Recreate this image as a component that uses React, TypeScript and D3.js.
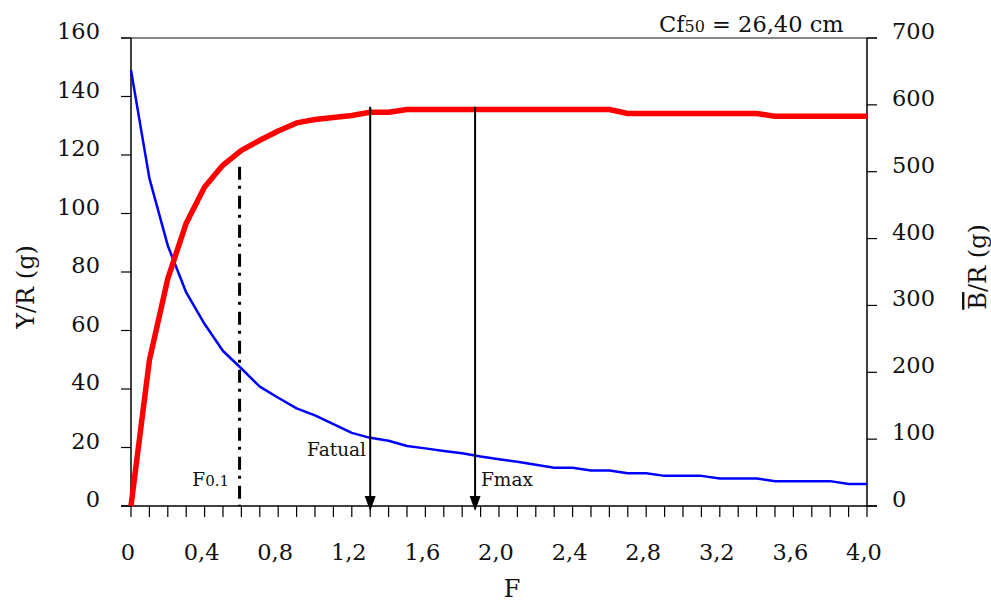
import React from "react";
import * as d3 from "d3";

const F = [0, 0.1, 0.2, 0.3, 0.4, 0.5, 0.6, 0.7, 0.8, 0.9, 1.0, 1.1, 1.2, 1.3, 1.4, 1.5, 1.6, 1.7, 1.8, 1.9, 2.0, 2.1, 2.2, 2.3, 2.4, 2.5, 2.6, 2.7, 2.8, 2.9, 3.0, 3.1, 3.2, 3.3, 3.4, 3.5, 3.6, 3.7, 3.8, 3.9, 4.0];
const yieldPerRecruit = [149, 112, 89, 73, 62.2, 53, 47, 40.8, 37, 33.4, 31, 28, 25, 23.3, 22.3, 20.5, 19.7, 18.8, 18, 16.9, 16, 15.1, 14.1, 13.1, 13.1, 12.1, 12.1, 11.2, 11.2, 10.3, 10.3, 10.3, 9.4, 9.4, 9.4, 8.5, 8.5, 8.5, 8.5, 7.5, 7.5];
const biomassPerRecruit = [0, 218, 340, 423, 477, 510, 532, 547, 561, 573, 578, 581, 584, 589, 589, 593, 593, 593, 593, 593, 593, 593, 593, 593, 593, 593, 593, 587, 587, 587, 587, 587, 587, 587, 587, 583, 583, 583, 583, 583, 583];
const xTickLabels = [0, 0.4, 0.8, 1.2, 1.6, 2.0, 2.4, 2.8, 3.2, 3.6, 4.0];
const leftTicks = [0, 20, 40, 60, 80, 100, 120, 140, 160];
const rightTicks = [0, 100, 200, 300, 400, 500, 600, 700];
const F01 = 0.59;
const Fatual = 1.3;
const Fmax = 1.87;
const refTopLeft = 116;
const arrowTopLeft = 136.5;

const FONT = "DejaVu Serif";

export default function App() {
  const x = d3.scaleLinear().domain([0, 4]).range([131, 867]);
  const yL = d3.scaleLinear().domain([0, 160]).range([506, 38]);
  const yR = d3.scaleLinear().domain([0, 700]).range([506, 38]);

  const blueLine = d3
    .line<number>()
    .x((_, i) => x(F[i]))
    .y((d) => yL(d))(yieldPerRecruit) as string;
  const redLine = d3
    .line<number>()
    .x((_, i) => x(F[i]))
    .y((d) => yR(d))(biomassPerRecruit) as string;

  const fmt = (v: number) => (v === 0 ? "0" : v.toFixed(1).replace(".", ","));
  const x0 = x(0);
  const x1 = x(4);
  const yb = yL(0);

  const arrow = (fv: number, key: string) => {
    const px = x(fv);
    const tip = yb + 5;
    return (
      <g key={key}>
        <line x1={px} x2={px} y1={yL(arrowTopLeft)} y2={tip - 10} stroke="#000" strokeWidth={2} />
        <polygon points={`${px - 5.5},${tip - 15} ${px + 5.5},${tip - 15} ${px},${tip}`} fill="#000" />
      </g>
    );
  };

  return (
    <svg
      width={991}
      height={602}
      style={{ position: "absolute", left: 0, top: 0, background: "#fff" }}
      fontFamily={FONT}
    >
      <rect width={991} height={602} fill="#fff" />
      {/* top frame line */}
      <line x1={x0 - 10} x2={x1 + 10} y1={yL(160)} y2={yL(160)} stroke="#888" strokeWidth={2} />
      {/* left axis */}
      <line x1={x0} x2={x0} y1={yL(160)} y2={yb} stroke="#000" strokeWidth={1.5} />
      {leftTicks.map((t) => (
        <g key={"l" + t}>
          <line x1={x0 - 10} x2={x0} y1={yL(t)} y2={yL(t)} stroke="#000" strokeWidth={1.2} />
          <text x={100} y={yL(t) + 1} textAnchor="end" fontSize={22.5} fill="#111">
            {t}
          </text>
        </g>
      ))}
      {/* right axis */}
      <line x1={x1} x2={x1} y1={yR(700)} y2={yb} stroke="#000" strokeWidth={1.5} />
      {rightTicks.map((t) => (
        <g key={"r" + t}>
          <line x1={x1} x2={x1 + 10} y1={yR(t)} y2={yR(t)} stroke="#000" strokeWidth={1.2} />
          <text x={892} y={yR(t) + 1} textAnchor="start" fontSize={22.5} fill="#111">
            {t}
          </text>
        </g>
      ))}
      {/* bottom axis */}
      <line x1={x0 - 10} x2={x1 + 10} y1={yb} y2={yb} stroke="#000" strokeWidth={1.5} />
      {F.map((f) => (
        <line key={"b" + f} x1={x(f)} x2={x(f)} y1={yb} y2={yb + 11} stroke="#000" strokeWidth={1.2} />
      ))}
      {xTickLabels.map((t) => (
        <text key={"xt" + t} x={x(t) - 3} y={560} textAnchor="middle" fontSize={22.5} fill="#111">
          {fmt(t)}
        </text>
      ))}
      {/* axis titles */}
      <text x={512} y={597} textAnchor="middle" fontSize={24} fill="#111">
        F
      </text>
      <text
        transform={`translate(34,287) rotate(-90)`}
        textAnchor="middle"
        fontSize={24}
        fill="#111"
      >
        Y/R (g)
      </text>
      <text
        transform={`translate(986,267) rotate(-90)`}
        textAnchor="middle"
        fontSize={24}
        fill="#111"
      >
        <tspan textDecoration="overline" style={{ textDecoration: "overline" }}>B</tspan>/R (g)
      </text>
      {/* Cf50 */}
      <text x={659} y={32} fontSize={22.5} fill="#111">
        Cf<tspan fontSize={16}>50</tspan> = 26,40 cm
      </text>
      {/* F0.1 reference line */}
      <line
        x1={x(F01)}
        x2={x(F01)}
        y1={yL(refTopLeft)}
        y2={yb}
        stroke="#000"
        strokeWidth={3}
        strokeDasharray="13,6,3,7"
      />
      <text x={229} y={486} textAnchor="end" fontSize={18.5} fill="#111">
        F<tspan fontSize={15}>0.1</tspan>
      </text>
      {/* series */}
      <path d={blueLine} fill="none" stroke="#0000ff" strokeWidth={2.5} strokeLinejoin="round" />
      <path d={redLine} fill="none" stroke="#ff0000" strokeWidth={5.5} strokeLinejoin="round" />
      {/* arrows */}
      {arrow(Fatual, "fa")}
      {arrow(Fmax, "fm")}
      <text x={366} y={456} textAnchor="end" fontSize={18.5} fill="#111">
        Fatual
      </text>
      <text x={481} y={486} textAnchor="start" fontSize={18.5} fill="#111">
        Fmax
      </text>
    </svg>
  );
}
